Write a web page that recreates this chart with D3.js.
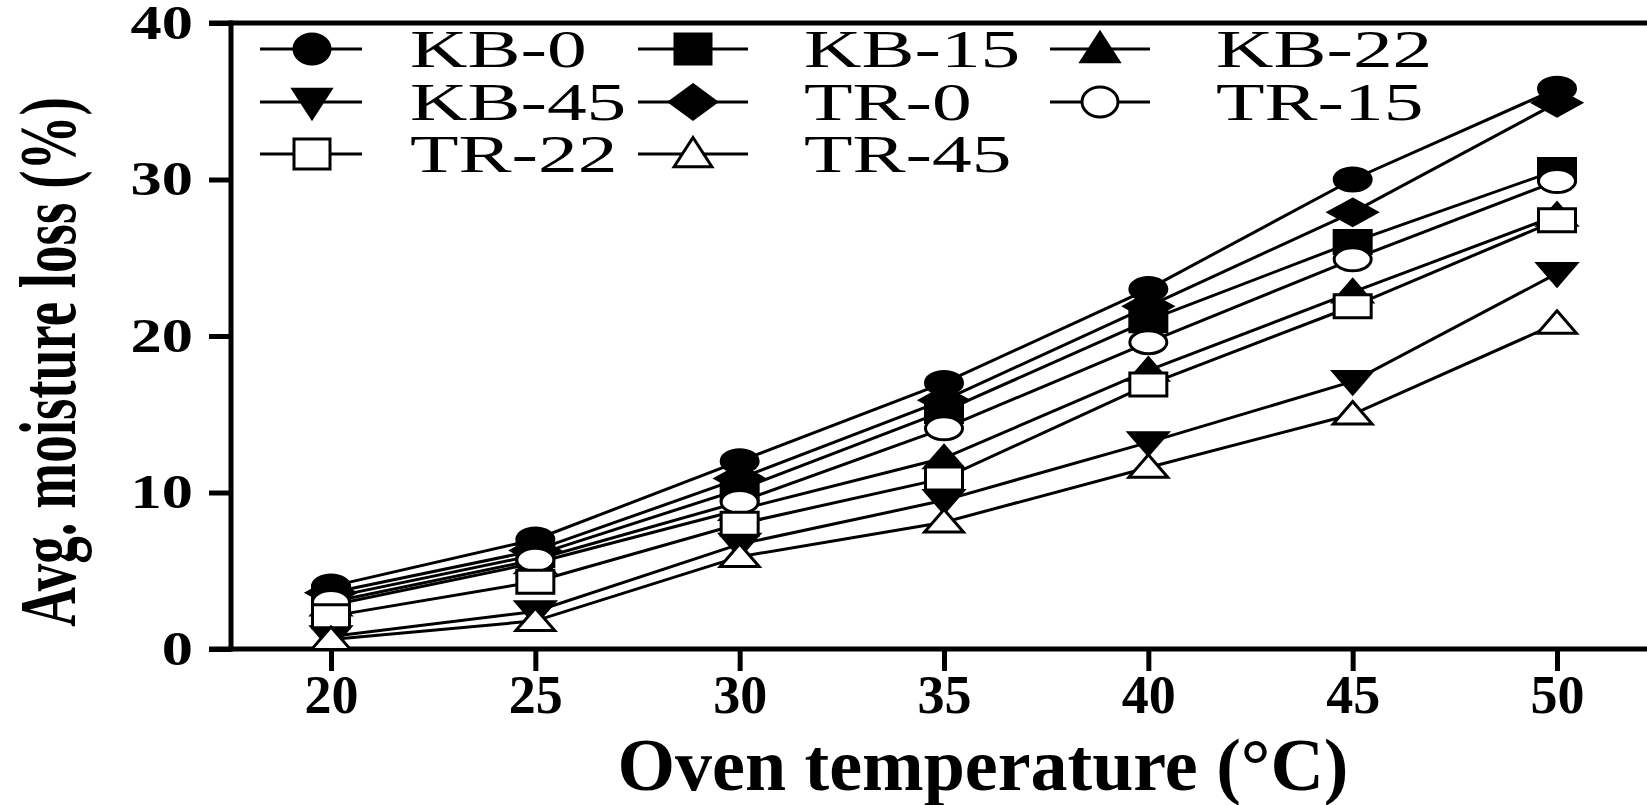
<!DOCTYPE html>
<html>
<head>
<meta charset="utf-8">
<script src="https://cdn.jsdelivr.net/npm/d3@7"></script>
<style>
body { margin: 0; background: #fff; }
text { font-family: "Liberation Serif", "Times New Roman", serif; fill: #000; }
</style>
</head>
<body>
<div id="chart"></div>
<script>
// values
var temps = [20, 25, 30, 35, 40, 45, 50];
var kb0  = [4.0, 7.0, 12.0, 17.0, 23.0, 30.0, 35.8];
var kb15 = [3.3, 6.0, 10.2, 15.2, 21.0, 26.0, 30.6];
var kb22 = [2.8, 5.5, 8.9, 12.2, 17.8, 22.8, 27.7];
var kb45 = [0.8, 2.4, 6.7, 9.5, 13.2, 17.1, 24.0];
var tr0  = [3.6, 6.3, 10.9, 15.9, 21.9, 27.9, 34.9];
var tr15 = [3.0, 5.7, 9.4, 14.1, 19.6, 24.9, 29.9];
var tr22 = [2.1, 4.3, 8.0, 10.9, 16.9, 21.9, 27.4];
var tr45 = [0.6, 1.8, 5.9, 8.1, 11.6, 15.0, 20.8];

var seriesNames  = ["KB-0", "KB-15", "KB-22", "KB-45", "TR-0", "TR-15", "TR-22", "TR-45"];
var seriesValues = [kb0, kb15, kb22, kb45, tr0, tr15, tr22, tr45];
var seriesShapes = ["circle", "square", "triangle", "triangleDown", "diamond", "circle", "square", "triangle"];
var seriesFilled = [true, true, true, true, true, false, false, false];

var yTicks = [0, 10, 20, 30, 40];
var xTicks = [20, 25, 30, 35, 40, 45, 50];

var width = 1647, height = 805;
var axisX = 231;

var x = d3.scaleLinear().domain([20, 50]).range([331, 1557]);
var y = d3.scaleLinear().domain([0, 40]).range([649, 23]);

// unit shapes, stretched later by scale()
var shapePath = {
  circle: "M-1,0A1,1 0 1,0 1,0A1,1 0 1,0 -1,0Z",
  square: "M-1,-1H1V1H-1Z",
  triangle: "M0,-1.1L1.05,0.85L-1.05,0.85Z",
  triangleDown: "M0,1.1L1.05,-0.85L-1.05,-0.85Z",
  diamond: "M0,-1.15L1.3,0L0,1.15L-1.3,0Z"
};

var svg = d3.select("#chart").append("svg")
  .attr("width", width)
  .attr("height", height);

// axes
var yAxis = d3.axisLeft(y).tickValues(yTicks).tickSize(22).tickSizeOuter(0).tickPadding(16);
var xAxis = d3.axisBottom(x).tickValues(xTicks).tickSize(22).tickSizeOuter(0).tickPadding(4);

var gy = svg.append("g").attr("transform", "translate(" + axisX + ",0)").call(yAxis);
var gx = svg.append("g").attr("transform", "translate(0," + y(0) + ")").call(xAxis);

[gy, gx].forEach(function(g) {
  g.select(".domain").remove();
  g.selectAll(".tick line").attr("stroke", "#000").attr("stroke-width", 5);
});

gy.selectAll(".tick text")
  .attr("font-size", 48)
  .attr("font-weight", "bold")
  .each(function() {
    var t = d3.select(this);
    var tx = +t.attr("x");
    t.attr("x", 0).attr("transform", "translate(" + tx + ",0) scale(1.3,1)");
  });

gx.selectAll(".tick text")
  .attr("font-size", 54)
  .attr("font-weight", "bold");

// axis lines: left, bottom (with the 0 tick), top (with the 40 tick)
svg.append("line")
  .attr("x1", axisX).attr("x2", axisX)
  .attr("y1", y(40) - 2.5).attr("y2", y(0) + 2.5)
  .attr("stroke", "#000").attr("stroke-width", 5);
svg.append("line")
  .attr("x1", axisX - 22).attr("x2", width)
  .attr("y1", y(0)).attr("y2", y(0))
  .attr("stroke", "#000").attr("stroke-width", 5);
svg.append("line")
  .attr("x1", axisX - 22).attr("x2", width)
  .attr("y1", y(40)).attr("y2", y(40))
  .attr("stroke", "#000").attr("stroke-width", 5);

// axis titles
svg.append("text")
  .attr("transform", "translate(75,362) rotate(-90) scale(1,1.45)")
  .attr("text-anchor", "middle")
  .attr("font-size", 55)
  .attr("font-weight", "bold")
  .text("Avg. moisture loss (%)");

svg.append("text")
  .attr("x", 983)
  .attr("y", 790)
  .attr("text-anchor", "middle")
  .attr("font-size", 74)
  .attr("font-weight", "bold")
  .text("Oven temperature (°C)");

// lines
var line = d3.line()
  .x(function(d, i) { return x(temps[i]); })
  .y(function(d) { return y(d); });

svg.append("g").selectAll("path")
  .data(seriesValues)
  .enter().append("path")
  .attr("d", line)
  .attr("fill", "none")
  .attr("stroke", "#000")
  .attr("stroke-width", 3);

// markers
seriesValues.forEach(function(vals, s) {
  svg.append("g").selectAll("path")
    .data(vals)
    .enter().append("path")
    .attr("d", shapePath[seriesShapes[s]])
    .attr("transform", function(d, i) {
      return "translate(" + x(temps[i]) + "," + y(d) + ") scale(18.5,11.5)";
    })
    .attr("fill", seriesFilled[s] ? "#000" : "#fff")
    .attr("stroke", "#000")
    .attr("stroke-width", 3)
    .attr("vector-effect", "non-scaling-stroke");
});

// legend, 3 columns
var legCols = [{line: [260, 362], mark: 312, text: 410},
               {line: [638, 748], mark: 693, text: 804},
               {line: [1050, 1150], mark: 1100, text: 1216}];
var legRows = [49, 102, 154];

var legend = svg.append("g").selectAll("g")
  .data(seriesNames)
  .enter().append("g");

legend.each(function(name, i) {
  var g = d3.select(this);
  var c = legCols[i % 3], ly = legRows[Math.floor(i / 3)];
  g.append("line")
    .attr("x1", c.line[0]).attr("x2", c.line[1])
    .attr("y1", ly).attr("y2", ly)
    .attr("stroke", "#000").attr("stroke-width", 3);
  g.append("path")
    .attr("d", shapePath[seriesShapes[i]])
    .attr("transform", "translate(" + c.mark + "," + ly + ") scale(18,15)")
    .attr("fill", seriesFilled[i] ? "#000" : "#fff")
    .attr("stroke", "#000")
    .attr("stroke-width", 3)
    .attr("vector-effect", "non-scaling-stroke");
  g.append("text")
    .attr("transform", "translate(" + c.text + "," + (ly + 18) + ") scale(1.5,1)")
    .attr("font-size", 53)
    .text(name);
});
</script>
</body>
</html>
